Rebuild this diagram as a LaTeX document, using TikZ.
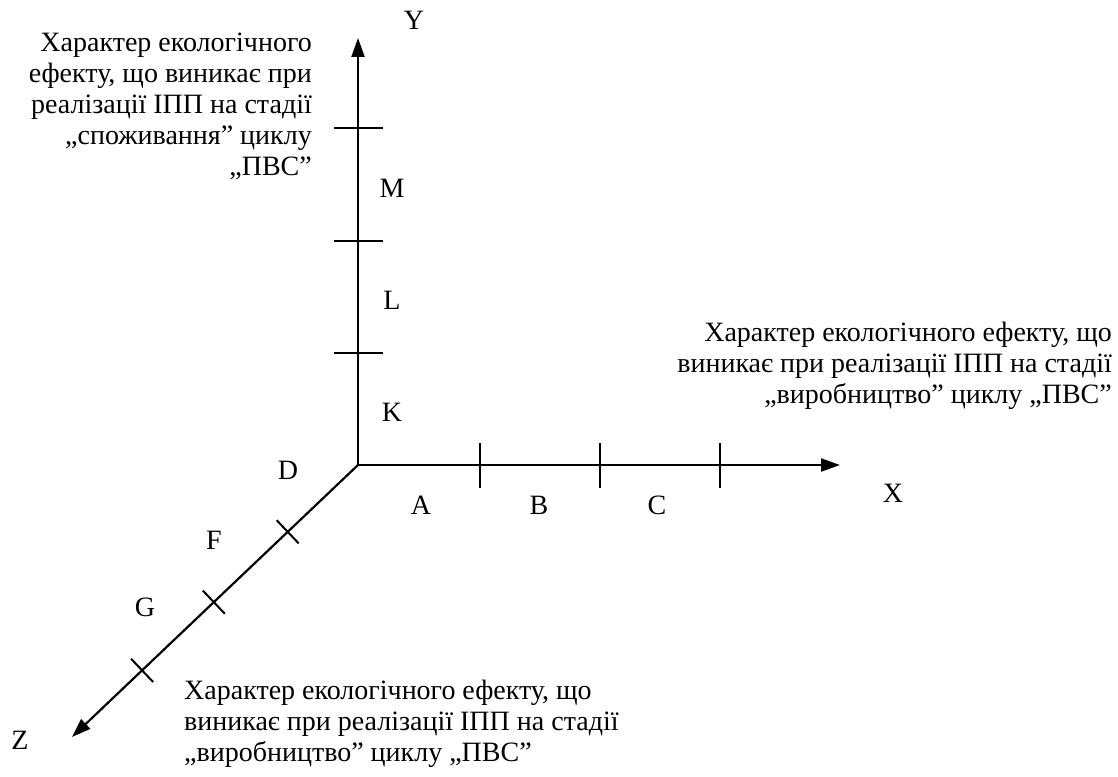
\documentclass[tikz,border=0pt]{standalone}
\usepackage{fontspec}
\setmainfont{Liberation Serif}
\usetikzlibrary{arrows.meta,calc}
\begin{document}
\begin{tikzpicture}[x=1pt,y=-1pt,
axisline/.style={line width=2.2pt, -{Triangle[length=19pt,width=13pt]}},
axtick/.style={line width=2pt},
lbl/.style={font=\fontsize{28}{31}\selectfont, inner sep=0pt}
]
\useasboundingbox (0,0) rectangle (1118,776);
\coordinate (O) at (358,465);
\coordinate (Yend) at (358,38);
\coordinate (Xend) at (840,465);
\coordinate (Zend) at (72,737);
\draw[axisline] (O) -- (Yend);
\draw[axisline] (O) -- (Xend);
\draw[axisline] (O) -- (Zend);
\foreach \t in {128,241,353}
\draw[axtick] (334,\t) -- (383,\t);
\foreach \t in {480,600,720}
\draw[axtick] (\t,443) -- (\t,488);
\foreach \d in {97,199,298}
\draw[axtick] ($(O)!\d pt!(Zend)$) ++(-11,-11.6) -- ++(22,23.2);
\node[lbl] (Ylab) at (414,20) {Y};
\node[lbl] (Xlab) at (893,493) {X};
\node[lbl] (Zlab) at (20,740) {Z};
\foreach \n/\x in {A/421,B/539,C/657}
\node[lbl] (\n) at (\x,505) {\n};
\foreach \n/\y in {K/412,L/300,M/188}
\node[lbl] (\n) at (392,\y) {\n};
\node[lbl] (D) at (288,470) {D};
\node[lbl] (F) at (214,540) {F};
\node[lbl] (G) at (145,607) {G};
\node[lbl, align=right, anchor=north east] (noteY) at (312,33)
{Характер екологічного\\ефекту, що виникає при\\реалізації ІПП на стадії\\„споживання” циклу\\„ПВС”};
\node[lbl, align=right, anchor=north east] (noteX) at (1112,322)
{Характер екологічного ефекту, що\\виникає при реалізації ІПП на стадії\\„виробництво” циклу „ПВС”};
\node[lbl, align=left, anchor=north west] (noteZ) at (184,680)
{Характер екологічного ефекту, що\\виникає при реалізації ІПП на стадії\\„виробництво” циклу „ПВС”};
\end{tikzpicture}
\end{document}
